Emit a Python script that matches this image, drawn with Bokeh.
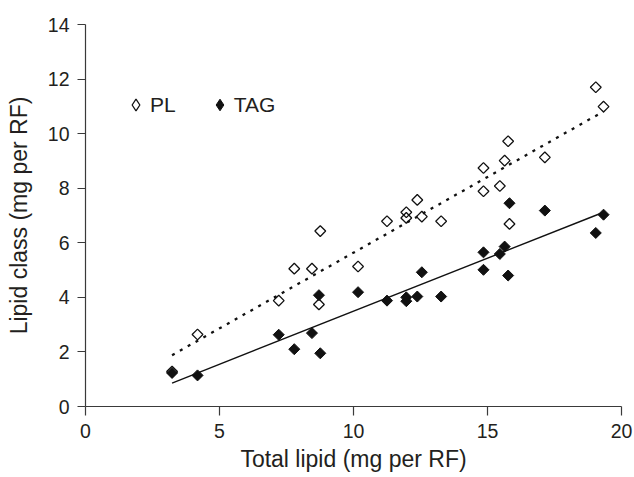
import numpy as np
from bokeh.plotting import figure
from bokeh.models import Legend, LegendItem, FixedTicker, ColumnDataSource
from bokeh.embed import file_html
from bokeh.resources import INLINE

# ---- data ----
total_lipid = [3.23, 4.18, 7.21, 7.79, 8.45, 8.71, 8.76, 10.17, 11.25, 11.97, 11.97,
               12.38, 12.55, 13.27, 14.85, 14.85, 15.46, 15.64, 15.77, 15.82, 17.14,
               19.04, 19.33]
pl = [1.28, 2.64, 3.88, 5.05, 5.05, 3.74, 6.43, 5.13, 6.79, 7.12, 6.91,
      7.57, 6.96, 6.79, 8.74, 7.89, 8.08, 9.01, 9.72, 6.69, 9.13,
      11.70, 10.99]
tag = [1.23, 1.14, 2.63, 2.10, 2.69, 4.08, 1.95, 4.19, 3.88, 4.00, 3.86,
       4.03, 4.92, 4.03, 5.65, 5.01, 5.59, 5.86, 4.80, 7.45, 7.18,
       6.36, 7.03]
x_ticks = [0, 5, 10, 15, 20]
y_ticks = [0, 2, 4, 6, 8, 10, 12, 14]
series_names = ["PL", "TAG"]

FONT = "Liberation Sans"
TXT = "#231f20"
AX = "#3a3a3a"

p = figure(width=634, height=477, x_range=(0, 20), y_range=(0, 14),
           output_backend="svg", toolbar_location=None,
           min_border_left=85, min_border_right=13, min_border_top=24,
           min_border_bottom=71)
p.outline_line_color = None
p.xgrid.visible = False
p.ygrid.visible = False
p.background_fill_color = "white"
p.border_fill_color = "white"

for ax in (p.xaxis[0], p.yaxis[0]):
    ax.axis_line_color = AX
    ax.axis_line_width = 1.2
    ax.major_tick_line_color = AX
    ax.major_tick_line_width = 1.2
    ax.major_tick_in = 0
    ax.minor_tick_line_color = None
    ax.major_label_text_font = FONT
    ax.major_label_text_font_size = "19.5px"
    ax.major_label_text_color = TXT
    ax.axis_label_text_font = FONT
    ax.axis_label_text_font_size = "23px"
    ax.axis_label_text_font_style = "normal"
    ax.axis_label_text_color = TXT

p.xaxis.ticker = FixedTicker(ticks=x_ticks)
p.yaxis.ticker = FixedTicker(ticks=y_ticks)
p.xaxis.major_tick_out = 9
p.yaxis.major_tick_out = 8
p.xaxis.major_label_standoff = 8
p.yaxis.major_label_standoff = 8
p.xaxis.axis_label = "Total lipid (mg per RF)"
p.yaxis.axis_label = "Lipid class (mg per RF)"
p.xaxis.axis_label_standoff = 5
p.yaxis.axis_label_standoff = 13

# ---- linear trend lines ----
x = np.array(total_lipid)
xs = np.array([x.min(), x.max()])
pl_fit = np.polyfit(x, np.array(pl), 1)
tag_fit = np.polyfit(x, np.array(tag), 1)
p.line(xs, np.polyval(pl_fit, xs), line_color="#111111", line_width=2.3,
       line_dash="3 6")
p.line(xs, np.polyval(tag_fit, xs), line_color="#111111", line_width=1.4)

# ---- markers (rotated squares = diamonds) ----
src = ColumnDataSource(dict(x=total_lipid, pl=pl, tag=tag))
p.scatter("x", "pl", source=src, marker="square", angle=np.pi / 4, size=7.6,
          line_color="#111111", line_width=1.3, fill_alpha=0)
p.scatter("x", "tag", source=src, marker="square", angle=np.pi / 4, size=7.8,
          line_color="#111111", line_width=1.0, fill_color="#111111")

# legend proxies (no visible points)
pl_proxy = p.scatter([np.nan], [np.nan], marker="diamond", line_color="#111111",
                     line_width=1.3, fill_alpha=0)
tag_proxy = p.scatter([np.nan], [np.nan], marker="diamond", line_color="#111111",
                      fill_color="#111111")

legend = Legend(items=[LegendItem(label=series_names[0], renderers=[pl_proxy]),
                       LegendItem(label=series_names[1], renderers=[tag_proxy])],
                orientation="horizontal", location=(36, 287),
                border_line_color=None, background_fill_alpha=0,
                padding=0, margin=0, spacing=29,
                glyph_width=29, glyph_height=29, label_standoff=0,
                label_text_font=FONT, label_text_font_size="21px",
                label_text_color=TXT)
p.add_layout(legend)

open("out.html", "w").write(file_html(p, INLINE))
